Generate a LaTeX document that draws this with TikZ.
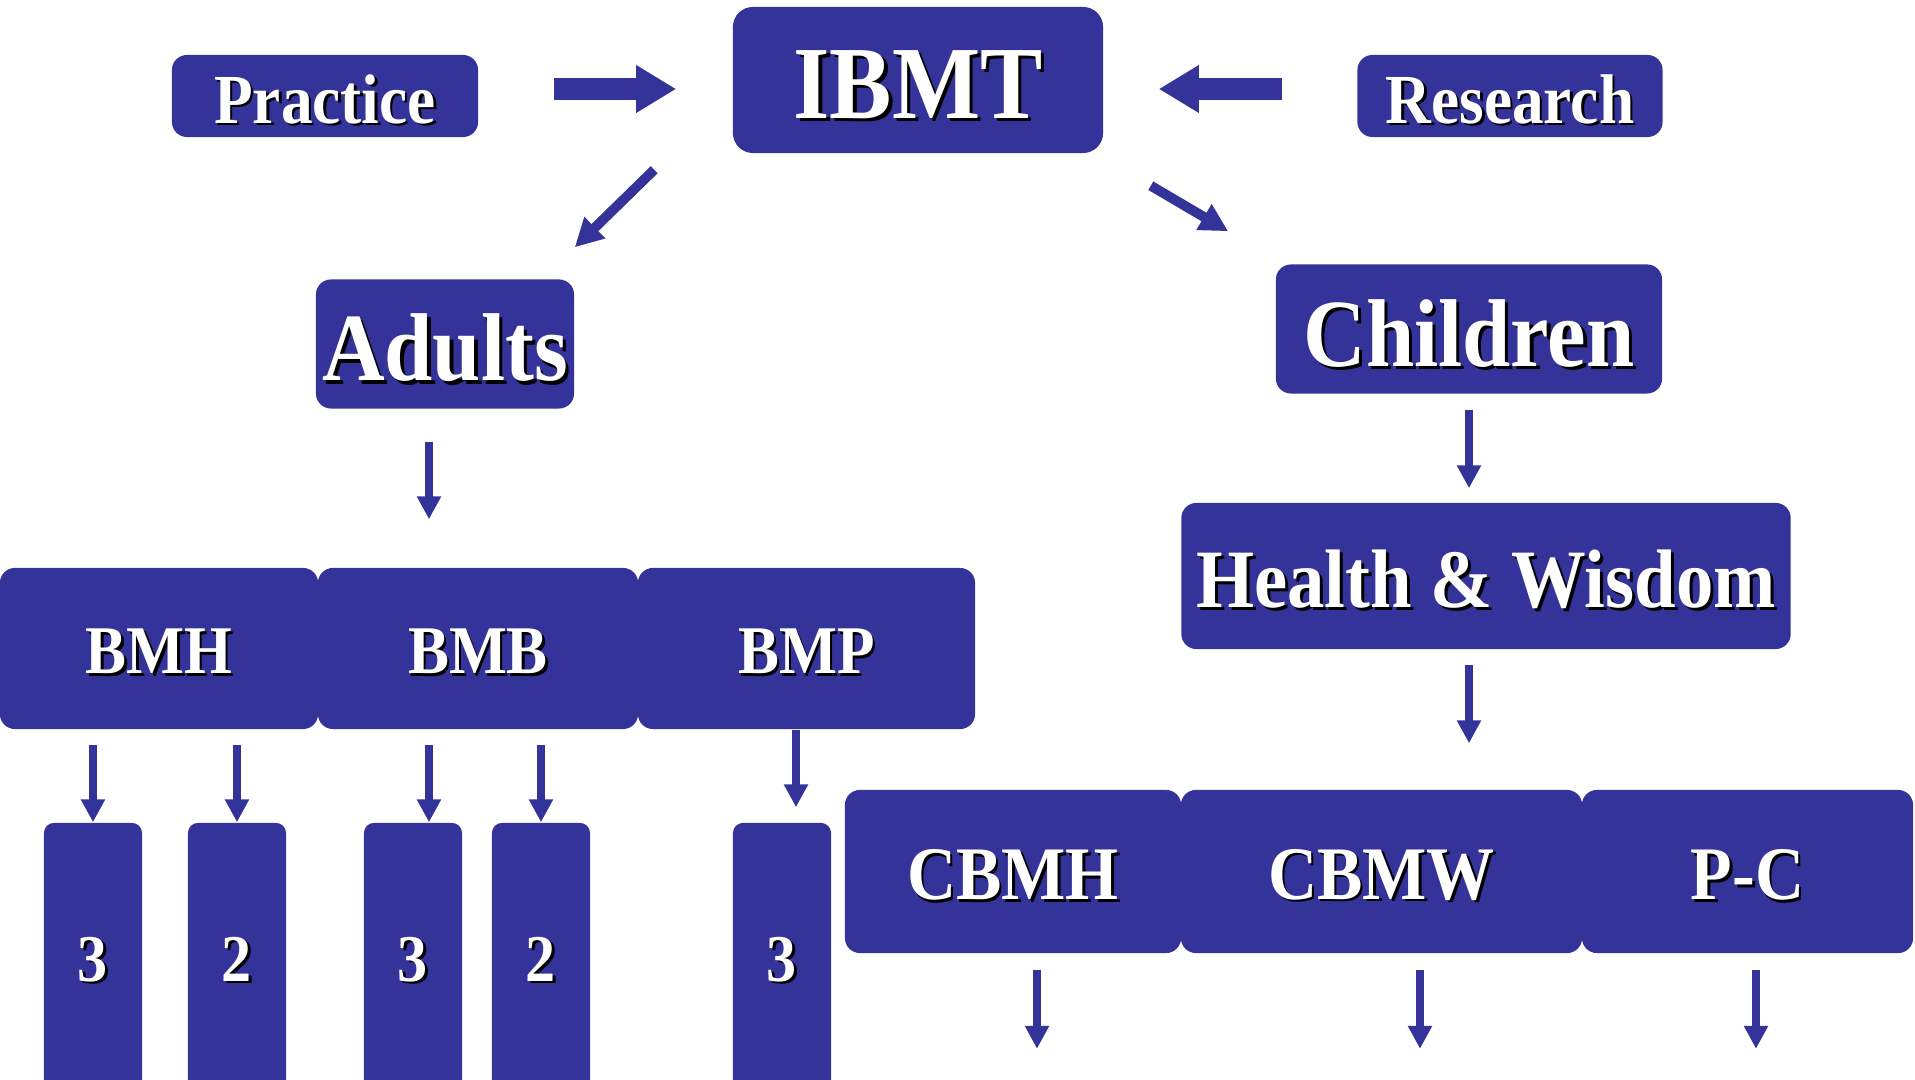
\documentclass[tikz,border=0pt]{standalone}
\usepackage{fontspec}
\setmainfont{Liberation Serif}[FakeStretch=0.9]
\usetikzlibrary{arrows.meta}

\definecolor{ibmtblue}{RGB}{51,51,153}
\newcommand{\shadowtext}[1]{\raisebox{-0.06em}[\height][\depth]{\rlap{\hspace{0.035em}\raisebox{-0.035em}{\color{black}#1}}#1}}

\tikzset{
  box/.style={fill=ibmtblue, rounded corners=0.15cm, text=white, inner sep=0pt},
  colbox/.style={box, rounded corners=0.1cm, minimum width=0.98cm, minimum height=2.67cm,
    font=\fontsize{19}{22}\selectfont\bfseries},
  fatarrow/.style={ibmtblue, line width=6.3pt, -{Triangle[width=12.8pt,length=11.4pt]}},
  thinarrow/.style={ibmtblue, line width=2.3pt, -{Triangle[width=6.5pt,length=6.5pt]}},
  diagarrow/.style={ibmtblue, line width=2.8pt, -{Triangle[width=8pt,length=8pt]}}
}

\begin{document}
\begin{tikzpicture}[x=0.01cm, y=-0.01cm]

    \clip (0,0) rectangle (1915,1080);

    % top row
    \node [box, minimum width=3.06cm, minimum height=0.82cm, font=\fontsize{20}{24}\selectfont\bfseries]
      (practice) at (325,96) {\shadowtext{Practice}};
    \node [box, rounded corners=0.2cm, minimum width=3.7cm, minimum height=1.46cm, font=\fontsize{29.5}{34}\selectfont\bfseries]
      (ibmt) at (918,80) {\shadowtext{IBMT}};
    \node [box, minimum width=3.05cm, minimum height=0.82cm, font=\fontsize{20}{24}\selectfont\bfseries]
      (research) at (1510,96) {\shadowtext{Research}};

    \draw [fatarrow] ([shift={(75,-7)}]practice.east) -- ([shift={(-56,9)}]ibmt.west);
    \draw [fatarrow] ([shift={(-75,-7)}]research.west) -- ([shift={(55,9)}]ibmt.east);

    % second row
    \node [box, minimum width=2.58cm, minimum height=1.29cm, font=\fontsize{27.4}{32}\selectfont\bfseries]
      (adults) at (445,344) {\shadowtext{Adults}};
    \node [box, minimum width=3.86cm, minimum height=1.29cm, font=\fontsize{27.4}{32}\selectfont\bfseries]
      (children) at (1469,329) {\shadowtext{Children}};

    \draw [diagarrow] ([shift={(-78,16)}]ibmt.south west) -- ([shift={(0,-31.5)}]adults.north east);
    \draw [diagarrow] ([shift={(47,32)}]ibmt.south east) -- ([shift={(-47,-32.5)}]children.north west);

    \node [box, minimum width=6.09cm, minimum height=1.46cm, font=\fontsize{23.6}{28}\selectfont\bfseries]
      (hw) at (1486,576) {\shadowtext{Health \& Wisdom}};

    \draw [thinarrow] ([shift={(0,15.5)}]children.south) -- ([shift={(-17,-14)}]hw.north);

    % adult programmes
    \node [box, minimum width=3.18cm, minimum height=1.61cm, font=\fontsize{19.4}{23}\selectfont\bfseries]
      (bmh) at (159,648.5) {\shadowtext{BMH}};
    \node [box, minimum width=3.2cm, minimum height=1.61cm, font=\fontsize{19.4}{23}\selectfont\bfseries]
      (bmb) at (478,648.5) {\shadowtext{BMB}};
    \node [box, minimum width=3.37cm, minimum height=1.61cm, font=\fontsize{19.4}{23}\selectfont\bfseries]
      (bmp) at (806.5,648.5) {\shadowtext{BMP}};

    \draw [thinarrow] ([shift={(-16,32.5)}]adults.south) -- ([shift={(-49,-48)}]bmb.north);

    \node [colbox] (h3) at (93,956.5) {\shadowtext{3}};
    \node [colbox] (h2) at (237,956.5) {\shadowtext{2}};
    \node [colbox] (b3) at (413,956.5) {\shadowtext{3}};
    \node [colbox] (b2) at (541,956.5) {\shadowtext{2}};
    \node [colbox] (p3) at (782,956.5) {\shadowtext{3}};

    \draw [thinarrow] ([shift={(-66,15)}]bmh.south) -- (h3.north);
    \draw [thinarrow] ([shift={(78,15)}]bmh.south) -- (h2.north);
    \draw [thinarrow] ([shift={(-49,15)}]bmb.south) -- ([shift={(16,0)}]b3.north);
    \draw [thinarrow] ([shift={(63,15)}]bmb.south) -- (b2.north);
    \draw [thinarrow] ([shift={(-10.5,0)}]bmp.south) -- ([shift={(14,-15)}]p3.north);

    % children programmes
    \node [box, minimum width=3.36cm, minimum height=1.63cm, font=\fontsize{21.5}{25}\selectfont\bfseries]
      (cbmh) at (1013,871.5) {\shadowtext{CBMH}};
    \node [box, minimum width=4.01cm, minimum height=1.63cm, font=\fontsize{21.5}{25}\selectfont\bfseries]
      (cbmw) at (1381.5,871.5) {\shadowtext{CBMW}};
    \node [box, minimum width=3.31cm, minimum height=1.63cm, font=\fontsize{21.5}{25}\selectfont\bfseries]
      (pc) at (1747.5,871.5) {\shadowtext{P-C}};

    \draw [thinarrow] ([shift={(-17,15)}]hw.south) -- ([shift={(87.5,-46)}]cbmw.north);

    \draw [thinarrow] ([shift={(24,16)}]cbmh.south) -- ++(0,79);
    \draw [thinarrow] ([shift={(38.5,16)}]cbmw.south) -- ++(0,79);
    \draw [thinarrow] ([shift={(8.5,16)}]pc.south) -- ++(0,79);

\end{tikzpicture}
\end{document}
